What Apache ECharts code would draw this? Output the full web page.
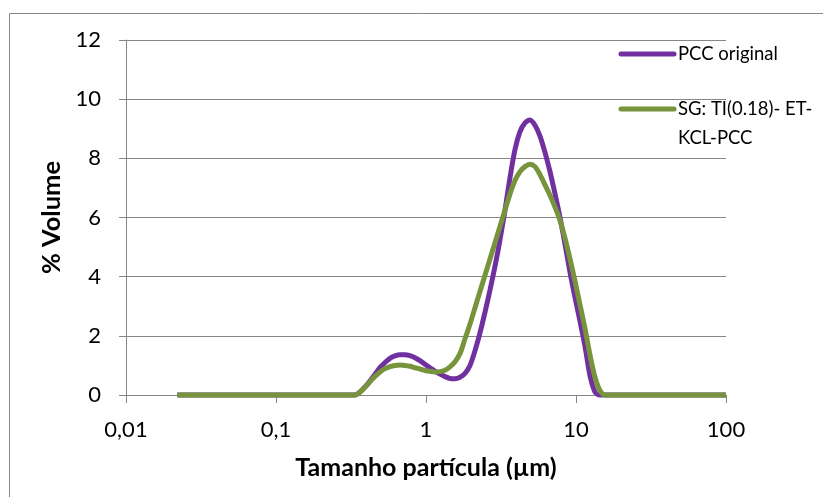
<!DOCTYPE html>
<html>
<head>
<meta charset="utf-8">
<script src="https://cdn.jsdelivr.net/npm/echarts@6/dist/echarts.min.js"></script>
<style>html,body{margin:0;padding:0;background:#fff}#c{width:823px;height:497px}</style>
</head>
<body>
<div id="c"></div>
<script>
// Particle size classes (µm)
const sizes = [0.022, 0.336, 0.363, 0.392, 0.423, 0.457, 0.494, 0.533, 0.575, 0.621, 0.671, 0.724, 0.782, 0.845, 0.912, 0.985,
  1.063, 1.148, 1.240, 1.339, 1.445, 1.561, 1.685, 1.820, 1.965, 2.122, 2.291, 2.474, 2.671, 2.884, 3.114, 3.363, 3.631,
  3.920, 4.233, 4.571, 4.935, 5.329, 5.754, 6.213, 6.709, 7.244, 7.822, 8.446, 9.120, 9.847, 10.63, 11.48, 12.40, 13.39,
  14.45, 15.61, 100];
// % volume, PCC original
const pccValues = [0, 0, 0.10, 0.27, 0.47, 0.70, 0.93, 1.10, 1.24, 1.32, 1.36, 1.36, 1.33, 1.26, 1.16, 1.04,
  0.92, 0.81, 0.71, 0.62, 0.56, 0.55, 0.60, 0.73, 1.00, 1.50, 2.10, 2.80, 3.55, 4.35, 5.25, 6.25, 7.35,
  8.30, 8.90, 9.20, 9.30, 9.12, 8.75, 8.20, 7.55, 6.80, 6.00, 5.10, 4.15, 3.30, 2.50, 1.65, 0.65, 0.10,
  0, 0, 0];
// % volume, SG: TI(0.18)- ET-KCL-PCC
const sgValues = [0, 0, 0.10, 0.26, 0.45, 0.63, 0.78, 0.89, 0.96, 1.00, 1.01, 1.00, 0.97, 0.92, 0.88, 0.83,
  0.80, 0.78, 0.79, 0.84, 0.95, 1.12, 1.40, 1.90, 2.40, 2.95, 3.50, 4.05, 4.60, 5.15, 5.70, 6.25, 6.80,
  7.25, 7.55, 7.72, 7.80, 7.72, 7.45, 7.10, 6.75, 6.35, 5.90, 5.30, 4.60, 3.85, 3.05, 2.25, 1.35, 0.60,
  0.15, 0, 0];
const seriesNames = ['PCC original', 'SG: TI(0.18)- ET-\nKCL-PCC'];
const seriesColors = ['#7030A0', '#77933C'];
const xTicks = [0.01, 0.1, 1, 10, 100];
const yTicks = [0, 2, 4, 6, 8, 10, 12];

const FONT = 'Lato, "Open Sans", sans-serif';
const chart = echarts.init(document.getElementById('c'), null, {renderer: 'canvas'});
const zip = (a, b) => a.map((v, i) => [v, b[i]]);

chart.setOption({
  animation: false,
  grid: {left: 126, top: 40, right: 97, bottom: 102},
  xAxis: {
    type: 'log', logBase: 10, min: xTicks[0], max: xTicks[xTicks.length - 1],
    name: 'Tamanho partícula (µm)', nameLocation: 'middle', nameGap: 60,
    nameTextStyle: {fontFamily: FONT, fontSize: 25, fontWeight: 'bold', color: '#000'},
    axisLine: {lineStyle: {color: '#868686', width: 1}},
    axisTick: {show: true, length: 8, lineStyle: {color: '#868686'}},
    axisLabel: {fontFamily: FONT, fontSize: 22, color: '#000', margin: 24,
      formatter: v => String(v).replace('.', ',')},
    splitLine: {show: false},
    minorTick: {show: false}
  },
  yAxis: {
    type: 'value', min: yTicks[0], max: yTicks[yTicks.length - 1], interval: 2,
    name: '% Volume', nameLocation: 'middle', nameGap: 50,
    nameTextStyle: {fontFamily: FONT, fontSize: 25.5, fontWeight: 'bold', color: '#000'},
    axisLine: {show: true, lineStyle: {color: '#868686', width: 1}},
    axisTick: {show: true, length: 7, lineStyle: {color: '#868686'}},
    axisLabel: {fontFamily: FONT, fontSize: 22, color: '#000', margin: 25},
    splitLine: {lineStyle: {color: '#868686', width: 1}}
  },
  series: [
    {name: seriesNames[0], type: 'line', data: zip(sizes, pccValues), smooth: 0.3, showSymbol: false,
     lineStyle: {color: seriesColors[0], width: 5}, itemStyle: {color: seriesColors[0]}, clip: false, z: 2},
    {name: seriesNames[1], type: 'line', data: zip(sizes, sgValues), smooth: 0.3, showSymbol: false,
     lineStyle: {color: seriesColors[1], width: 5}, itemStyle: {color: seriesColors[1]}, clip: false, z: 3}
  ],
  graphic: [
    {type: 'rect', shape: {x: 9.5, y: 13.5, width: 900, height: 600}, style: {fill: 'none', stroke: '#868686', lineWidth: 1}, silent: true},
    {type: 'line', shape: {x1: 621, y1: 54, x2: 674, y2: 54}, style: {stroke: seriesColors[0], lineWidth: 5, lineCap: 'round'}},
    {type: 'text', x: 678, y: 54, style: {text: seriesNames[0], font: '18.5px ' + FONT, fill: '#000', verticalAlign: 'middle'}},
    {type: 'line', shape: {x1: 621, y1: 109, x2: 674, y2: 109}, style: {stroke: seriesColors[1], lineWidth: 5, lineCap: 'round'}},
    {type: 'text', x: 678, y: 95, style: {text: seriesNames[1], font: '18.5px ' + FONT, fill: '#000', verticalAlign: 'top', lineHeight: 29}}
  ]
});
</script>
</body>
</html>
